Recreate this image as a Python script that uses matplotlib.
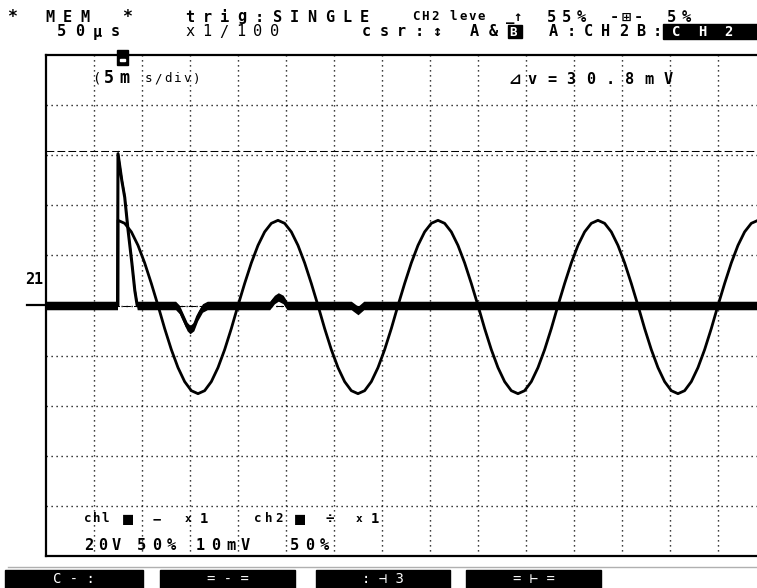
import numpy as np
import matplotlib.pyplot as plt
from matplotlib.patches import Rectangle
from matplotlib.lines import Line2D

# -------------------------------
# Data
# -------------------------------
# time in ms (5 ms/div), level in div relative to the "21" zero marker
t_ch1 = [0.0, 7.45, 7.5, 7.9, 8.2, 8.55, 8.95, 9.25, 9.5, 13.5, 13.9, 14.3, 14.7, 15.0,
         15.4, 15.8, 16.3, 16.8, 23.3, 23.8, 24.2, 24.7, 25.1, 31.8, 32.5, 33.1, 75.0]
v_ch1 = [0.0, 0.0, 3.03, 2.49, 2.16, 1.50, 0.84, 0.30, 0.0, 0.0, -0.08, -0.25, -0.42, -0.48,
         -0.42, -0.22, -0.05, 0.0, 0.0, 0.12, 0.17, 0.12, 0.0, 0.0, -0.10, 0.0, 0.0]

# ch2 before trigger, then sampled every 0.6944 ms after trigger
t_pre = [0.0, 7.5]
v_pre = [0.0, 0.0]
v_ch2 = [1.70, 1.64, 1.47, 1.20, 0.85, 0.44, 0.00, -0.46, -0.88, -1.24, -1.52, -1.70,
         -1.76, -1.70, -1.52, -1.24, -0.88, -0.46, 0.00, 0.44, 0.85, 1.20, 1.47, 1.64,
         1.70, 1.64, 1.47, 1.20, 0.85, 0.44, 0.00, -0.46, -0.88, -1.24, -1.52, -1.70,
         -1.76, -1.70, -1.52, -1.24, -0.88, -0.46, 0.00, 0.44, 0.85, 1.20, 1.47, 1.64,
         1.70, 1.64, 1.47, 1.20, 0.85, 0.44, 0.00, -0.46, -0.88, -1.24, -1.52, -1.70,
         -1.76, -1.70, -1.52, -1.24, -0.88, -0.46, 0.00, 0.44, 0.85, 1.20, 1.47, 1.64,
         1.70, 1.64, 1.47, 1.20, 0.85, 0.44, 0.00, -0.46, -0.88, -1.24, -1.52, -1.70,
         -1.76, -1.70, -1.52, -1.24, -0.88, -0.46, 0.00, 0.44, 0.85, 1.20, 1.47, 1.64,
         1.70, 1.64]
t_trig = 7.5
dt = 0.6944
zero_div = 5.0
cursor_div = 8.08

button_labels = ["C - :", "= - =", ": ⊣ 3", "= ⊢ ="]

# -------------------------------
# Figure / axes in pixel layout
# -------------------------------
W, H = 757, 588
fig = plt.figure(figsize=(W / 100, H / 100), dpi=100)
fig.patch.set_facecolor("white")

ax_l, ax_t, ax_b, px_div_x = 46, 55, 556, 48
ax = fig.add_axes([ax_l / W, (H - ax_b) / H, 15 * px_div_x / W, (ax_b - ax_t) / H])
ax.set_xlim(0, 75)
ax.set_ylim(0, 10)
ax.set_xticks([])
ax.set_yticks([])
for s in ax.spines.values():
    s.set_linewidth(1.6)
ax.spines["right"].set_visible(False)

dot = (0, (0.9, 2.7))
for k in range(1, 15):
    ax.axvline(5 * k, color="black", lw=1.0, ls=dot, zorder=1)
for k in range(1, 10):
    ax.axhline(k, color="black", lw=1.0, ls=dot, zorder=1)

# cursors
ax.axhline(cursor_div, color="black", lw=0.75, ls=(0, (7.5, 3)), zorder=2)
ax.axhline(zero_div, color="black", lw=0.75, ls=(0, (7.5, 3)), zorder=2)

# ch2 (thin sine)
t2 = t_pre + [t_trig + i * dt for i in range(len(v_ch2))]
y2 = [zero_div + v for v in v_pre + v_ch2]
ax.plot(t2, y2, color="black", lw=2.0, zorder=3, solid_joinstyle="round")

# ch1 (thick noisy trace)
y1 = np.array([zero_div + v for v in v_ch1])
ax.fill_between(t_ch1, y1 - 0.085, y1 + 0.085, color="black", lw=0, zorder=4)
ax.plot(t_ch1, y1, color="black", lw=2.2, zorder=4)

# trigger position marker
ax.add_patch(Rectangle((7.40, 9.80), 1.14, 0.30, color="black", zorder=5, clip_on=False))
ax.add_patch(Rectangle((7.75, 9.88), 0.45, 0.05, color="white", zorder=6, clip_on=False))

# -------------------------------
# Text
# -------------------------------
MONO = ["DejaVu Sans Mono", "DejaVu Sans"]


def put(x, y, s, pitch=None, size=10, color="black", weight="bold", **kw):
    if pitch is None:
        fig.text(x / W, 1 - y / H, s, ha="left", va="center", fontsize=size,
                 color=color, family=MONO, fontweight=weight, **kw)
        return
    for i, ch in enumerate(s):
        if ch != " ":
            fig.text((x + i * pitch) / W, 1 - y / H, ch, ha="left", va="center",
                     fontsize=size, color=color, family=MONO, fontweight=weight, **kw)


# header line 1
put(7, 17, "*", size=12)
put(45, 17, "MEM", pitch=17.5, size=11)
put(122, 17, "*", size=12)
put(185, 17, "trig:SINGLE", pitch=17.5, size=11)
put(412, 17, "CH2 leve", pitch=9.4, size=9)
put(506, 17, "_↑", pitch=7, size=10)
put(547, 17, "55%", pitch=15, size=11)
put(610, 17, "-⊞-", pitch=12, size=11)
put(667, 17, "5%", pitch=15, size=11)

# header line 2
put(57, 32, "50µs", pitch=18, size=11)
put(185, 32, "x1/100", pitch=17, size=11, weight="normal")
put(362, 32, "csr:↕", pitch=17.5, size=11)
put(470, 32, "A&", pitch=19, size=11)
fig.patches.append(Rectangle((508 / W, 1 - 38 / H), 14 / W, 13 / H, color="black",
                             transform=fig.transFigure, figure=fig))
put(509, 32, "B", size=9, color="white")
put(549, 32, "A:CH2", pitch=17.5, size=11)
put(636, 32, "B:", pitch=17, size=11)
fig.patches.append(Rectangle((663 / W, 1 - 39 / H), 94 / W, 15 / H, color="black",
                             transform=fig.transFigure, figure=fig))
put(672, 32, "CH2", pitch=26, size=10, color="white")

# inside plot
put(92, 78, "(", size=10, weight="normal")
put(104, 78, "5m", pitch=15, size=12)
put(145, 79, "s/div)", pitch=9.5, size=9, weight="normal")
put(508, 80, "⊿v=30.8mV", pitch=19.5, size=11)
put(25, 279, "21", pitch=9, size=11)
fig.lines.append(Line2D([27 / W, 46 / W], [1 - 305 / H, 1 - 305 / H], color="black",
                        lw=1.6, transform=fig.transFigure))

put(84, 519, "chl", pitch=8.5, size=9)
put(123, 519, "■", size=12)
put(153, 519, "−", size=10)
put(185, 519, "x", size=8)
put(200, 519, "1", size=10)
put(254, 519, "ch2", pitch=10.5, size=9)
put(295, 519, "■", size=12)
put(326, 519, "÷", size=10)
put(356, 519, "x", size=8)
put(371, 519, "1", size=10)

put(84, 545, "20V", pitch=14, size=11)
put(137, 545, "50%", pitch=15, size=11)
put(196, 545, "10mV", pitch=15, size=11)
put(290, 545, "50%", pitch=15, size=11)

# bottom separator and soft keys
fig.lines.append(Line2D([8 / W, 1.0], [1 - 567 / H, 1 - 567 / H], color="#b0b0b0",
                        lw=1.0, transform=fig.transFigure))
buttons_x = [(5, 143), (160, 295), (316, 450), (466, 601)]
for (x0, x1), lab in zip(buttons_x, button_labels):
    fig.patches.append(Rectangle((x0 / W, 0), (x1 - x0) / W, 18 / H, color="black",
                                 transform=fig.transFigure, figure=fig))
    fig.text((x0 + x1) / 2 / W, 1 - 579 / H, lab, ha="center", va="center",
             fontsize=10, color="white", family=MONO)

fig.savefig("out.png", dpi=100)
